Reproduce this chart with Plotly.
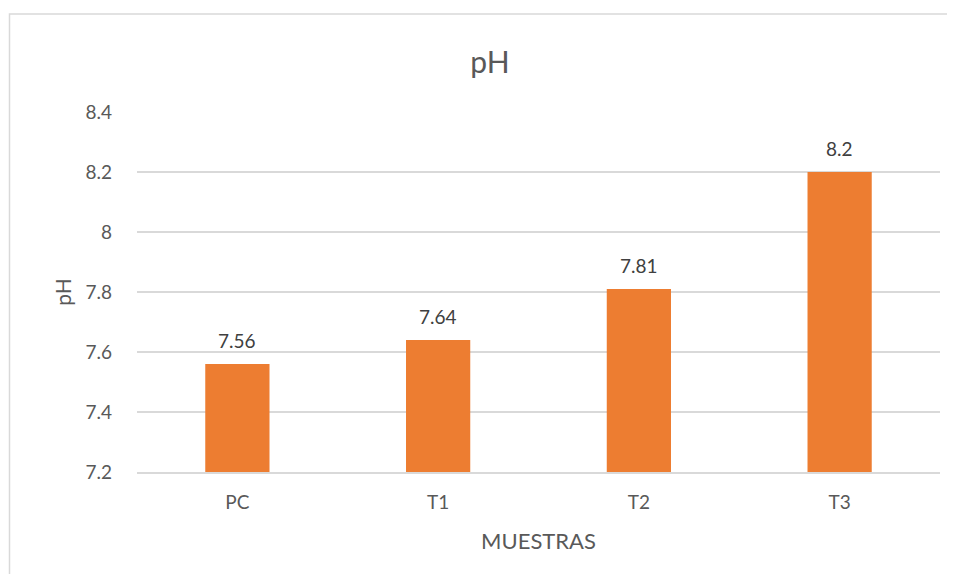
import plotly.graph_objects as go

# -- data ---------------------------------------------------------------
muestras = ["PC", "T1", "T2", "T3"]
ph_values = [7.56, 7.64, 7.81, 8.2]
ph_labels = ["7.56", "7.64", "7.81", "8.2"]
y_ticks = [7.2, 7.4, 7.6, 7.8, 8.0, 8.2, 8.4]
y_tick_text = ["7.2", "7.4", "7.6", "7.8", "8", "8.2", "8.4"]
Y_FLOOR = 7.2

FONT = "Lato, 'Open Sans', sans-serif"
GREY_TEXT = "#595959"
GRID = "#d9d9d9"

# the page body has an 8px margin: lay out 8px up/left and keep the
# figure small enough that the page never gets scrollbars
OFF = 8
W, H = 955 - 2 * OFF, 582 - 2 * OFF
L, T, PW, PH = 137 - OFF, 112 - OFF, 803, 360

fig = go.Figure()

fig.add_trace(go.Bar(
    x=muestras,
    y=[v - Y_FLOOR for v in ph_values],
    base=Y_FLOOR,
    marker=dict(color="#ed7d31", line=dict(width=0)),
    width=0.32,
    hovertext=ph_labels,
    hoverinfo="x+text",
))

# value labels sit well above the bar tops, as in Excel
for cat, val, lab in zip(muestras, ph_values, ph_labels):
    fig.add_annotation(
        x=cat, y=val, text=lab, showarrow=False,
        yanchor="middle", yshift=24,
        font=dict(size=19, color="#404040", family=FONT),
    )

# chart-area frame: only its left and top edges fall inside the picture
fx0 = (9.5 - 137) / PW
fx1 = (1000 - 137) / PW
fy0 = (472 - 620) / PH
fy1 = (472 - 14) / PH

fig.update_layout(
    width=W,
    height=H,
    paper_bgcolor="white",
    plot_bgcolor="white",
    margin=dict(l=L, r=W - L - PW, t=T, b=H - T - PH),
    showlegend=False,
    font=dict(family=FONT, color=GREY_TEXT, size=19),
    title=dict(
        text="pH",
        x=(490 - OFF) / W,
        xref="container",
        xanchor="center",
        y=1 - (62 - OFF) / H,
        yref="container",
        yanchor="middle",
        font=dict(size=30, color=GREY_TEXT, family=FONT),
    ),
    xaxis=dict(
        title=dict(text="MUESTRAS", font=dict(size=22, color=GREY_TEXT), standoff=22),
        tickfont=dict(size=19, color=GREY_TEXT),
        ticklabelstandoff=12,
        showline=True,
        linecolor=GRID,
        linewidth=1.5,
        ticks="",
        showgrid=False,
    ),
    yaxis=dict(
        title=dict(text="pH", font=dict(size=21, color=GREY_TEXT), standoff=8),
        range=[Y_FLOOR, 8.4],
        tickvals=y_ticks,
        ticktext=y_tick_text,
        tickfont=dict(size=19, color=GREY_TEXT),
        ticklabelstandoff=24,
        showgrid=True,
        gridcolor=GRID,
        gridwidth=1.5,
        zeroline=False,
        showline=False,
        ticks="",
    ),
    shapes=[
        dict(
            type="path",
            xref="paper",
            yref="paper",
            path=f"M {fx0},{fy0} L {fx0},{fy1} L {fx1},{fy1}",
            line=dict(color=GRID, width=1.5),
            layer="below",
        )
    ],
)

fig.write_html("out.html")
